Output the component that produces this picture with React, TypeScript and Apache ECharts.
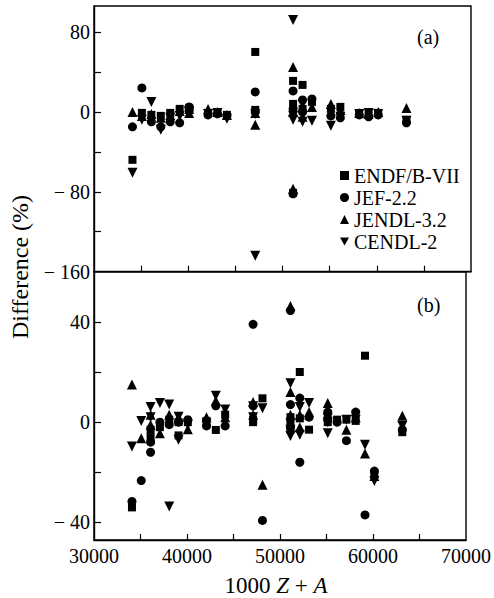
import React, { useEffect, useRef } from 'react';
import * as echarts from 'echarts';

const seriesNames = ['ENDF/B-VII', 'JEF-2.2', 'JENDL-3.2', 'CENDL-2'];

// Panel (a): 1000Z+A and differences (%)
const zaA = [34082, 35081, 36086, 37087, 38088, 39089, 40090, 40096, 42100, 43099, 44104, 47107, 47109, 51121, 51123, 51125, 52128, 52130, 53127, 55133, 56138, 58140, 59141, 60150, 63153];
const endfA = [-48, -1, -3, -4, -1, 3, 2, 4, -1, -1, -3, 60, 2, 31, -81, 8, 27, 3, 10, 3, 5, -2, -2, -1, -8];
const jefA = [-15, 24, -10, -15, -10, -11, 5, 2, -3, -2, -4, 20, 0, 21, -82, 3, 12, 0, 13, -4, -6, -3, -5, -3, -11];
const jendlA = [0, -4, -2, -6, -3, 1, 3, -1, 3, 0, -3, -13, -1, 45, -77, 0, 5, -5, 5, 8, 2, -1, -2, 0, 4];
const cendlA = [-61, -8, 10, -18, -6, -4, 0, 1, -2, -1, -7, -144, -2, 92, -8, -4, -10, 8, -9, -14, -5, -2, -1, -2, -9];

// Panel (b)
const zaB = [34082, 35081, 36084, 36086, 37087, 38088, 38090, 39089, 39091, 40090, 42100, 43099, 44104, 47107, 47109, 48116, 51121, 51123, 51125, 52128, 52130, 53127, 55133, 55135, 56138, 57139, 58140, 59141, 60150, 63153];
const endfB = [-34, null, -6, -3, -2, 1, null, -5.3, 0, 0, 0.5, -3.1, 3, 1, 0, 9.5, 0, -3, 2, 20, 1.5, -3, 2, 0, 1, 1, 0.5, 26.5, -21, -4];
const jefB = [-31.6, -23.3, -12, -8, 0, -1, null, 0, null, 1, -1.5, 6.5, -1.5, 39, 6.5, -39.2, 44.5, 7, -2, 9.6, -16, 2, 4, 1, 0, -7.4, 4, -37, -19.5, -3];
const jendlB = [15, -6.4, -1, 3, -4.4, 3, null, 2, null, -2.8, 2, 8.5, 2, 8, 3, -25, 46.3, 12, 3, 3, -2, 4, 7.6, 5, null, -3, 2, -12.5, -21.5, 2.6];
const cendlB = [-9.7, 0.5, 6, 2, 7.6, 7, -33.6, -7, 2.2, -1, -0.5, 10.5, 5, 6.3, 2, 5.5, 15.5, -5.5, -3, -5, 6, 7.6, -4.4, 0, null, 1, 1, -9, -23.5, -1.5];

const xTicks = [35000, 40000, 45000, 50000, 55000, 60000, 65000];
const xLabels = [30000, 40000, 50000, 60000, 70000];
const yTicksA = [-120, -80, -40, 0, 40, 80];
const yLabelsA = [-160, -80, 0, 80];
const yTicksB = [-40, -20, 0, 20, 40];
const yLabelsB = [-40, 0, 40];

const FONT = "'Liberation Serif', 'Times New Roman', serif";
const INV_TRI = 'path://M0,0L10,0L5,9Z';
const symbols = ['rect', 'circle', 'triangle', INV_TRI];
const sizes = [8, 9, 10, 10];

function pairs(za: number[], vals: (number | null)[]) {
  const out: number[][] = [];
  za.forEach((x, i) => {
    const v = vals[i];
    if (v !== null && v !== undefined) out.push([x, v]);
  });
  return out;
}

const fmt = (v: number) => (v < 0 ? '\u2212 ' + String(-v) : String(v));

export default function App() {
  const ref = useRef<HTMLDivElement>(null);
  useEffect(() => {
    if (!ref.current) return;
    const chart = echarts.init(ref.current, undefined, { renderer: 'svg' });
    const valsA = [endfA, jefA, jendlA, cendlA];
    const valsB = [endfB, jefB, jendlB, cendlB];
    const series: any[] = [];
    [0, 1].forEach((g) => {
      const vals = g === 0 ? valsA : valsB;
      const za = g === 0 ? zaA : zaB;
      seriesNames.forEach((name, k) => {
        series.push({
          type: 'scatter',
          name,
          xAxisIndex: g,
          yAxisIndex: g,
          symbol: symbols[k],
          symbolSize: sizes[k],
          itemStyle: { color: '#000', opacity: 1 },
          emphasis: { disabled: true },
          data: pairs(za, vals[k]),
        });
      });
    });
    const axisLine = { show: true, onZero: false, lineStyle: { color: '#000', width: 1.4 } };
    const labelStyle = { fontFamily: FONT, fontSize: 20, color: '#000' };
    const tickLine = { color: '#000', width: 1.2 };
    chart.setOption({
      animation: false,
      backgroundColor: '#fff',
      grid: [
        { left: 94, right: 23, top: 6, height: 265.7, show: true, borderColor: '#000', borderWidth: 1.4 },
        { left: 94, right: 23, top: 271.7, height: 268.3, show: true, borderColor: '#000', borderWidth: 1.4 },
      ],
      xAxis: [
        {
          type: 'value', gridIndex: 0, min: 30000, max: 70000,
          axisLine, splitLine: { show: false },
          axisLabel: { show: false },
          axisTick: { show: true, inside: true, length: 6, customValues: xTicks, lineStyle: tickLine },
        },
        {
          type: 'value', gridIndex: 1, min: 30000, max: 70000,
          axisLine, splitLine: { show: false },
          axisLabel: { ...labelStyle, margin: 6, customValues: xLabels, formatter: (v: number) => String(v) },
          axisTick: { show: true, inside: true, length: 6, customValues: xTicks, lineStyle: tickLine },
        },
      ],
      yAxis: [
        {
          type: 'value', gridIndex: 0, min: -160, max: 106,
          axisLine, splitLine: { show: false },
          axisLabel: { ...labelStyle, margin: 4, customValues: yLabelsA, formatter: fmt },
          axisTick: { show: true, inside: true, length: 7, customValues: yTicksA, lineStyle: tickLine },
        },
        {
          type: 'value', gridIndex: 1, min: -47, max: 60,
          axisLine, splitLine: { show: false },
          axisLabel: { ...labelStyle, margin: 4, customValues: yLabelsB, formatter: fmt },
          axisTick: { show: true, inside: true, length: 7, customValues: yTicksB, lineStyle: tickLine },
        },
      ],
      legend: {
        orient: 'vertical',
        left: 335,
        top: 160,
        itemWidth: 9,
        itemHeight: 9,
        itemGap: 1,
        selectedMode: false,
        itemStyle: { color: '#000', opacity: 1 },
        textStyle: { fontFamily: FONT, fontSize: 20, color: '#000', lineHeight: 21 },
        data: seriesNames.map((n, k) => ({ name: n, icon: symbols[k] })),
      },
      graphic: [
        { type: 'text', left: 417, top: 27, style: { text: '(a)', font: `20px 'Liberation Serif'`, fill: '#000' } },
        { type: 'text', left: 417, top: 295, style: { text: '(b)', font: `20px 'Liberation Serif'`, fill: '#000' } },
        {
          type: 'text', x: 20, y: 267, rotation: Math.PI / 2,
          style: { text: 'Difference (%)', font: `24px 'Liberation Serif'`, fill: '#000', align: 'center', verticalAlign: 'middle' },
        },
        {
          type: 'text', x: 276, y: 585,
          style: {
            text: '1000 {i|Z} + {i|A}', font: `23px 'Liberation Serif'`, fill: '#000', align: 'center', verticalAlign: 'middle',
            rich: { i: { fontStyle: 'italic', fontFamily: 'Liberation Serif', fontSize: 23 } },
          },
        },
      ],
      series,
    });
    return () => chart.dispose();
  }, []);
  return <div ref={ref} style={{ position: 'fixed', left: 0, top: 0, width: 494, height: 598 }} />;
}
